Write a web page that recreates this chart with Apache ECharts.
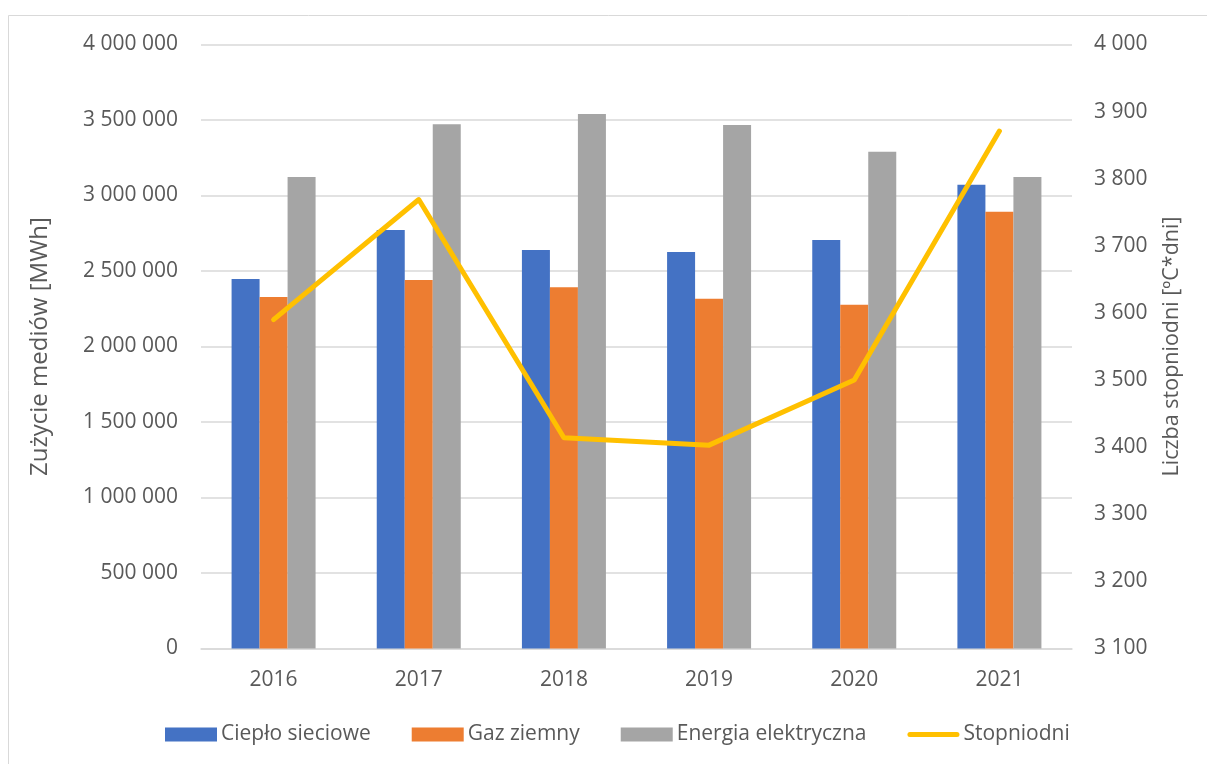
<!DOCTYPE html>
<html>
<head>
<meta charset="utf-8">
<script src="https://cdn.jsdelivr.net/npm/echarts@6/dist/echarts.min.js"></script>
<style>
  html, body { margin: 0; padding: 0; background: #ffffff; }
  #chart { width: 1207px; height: 764px; }
</style>
</head>
<body>
<div id="chart"></div>
<script>
// Zużycie mediów i liczba stopniodni, 2016–2021
const years = ['2016', '2017', '2018', '2019', '2020', '2021'];
const cieploSieciowe = [2447000, 2772000, 2639000, 2626000, 2705000, 3072000];
const gazZiemny = [2328000, 2440000, 2392000, 2317000, 2277000, 2893000];
const energiaElektryczna = [3123000, 3472000, 3540000, 3467000, 3290000, 3123000];
const stopniodni = [3590, 3769, 3414, 3403, 3500, 3871];

const FONT = '"Open Sans", sans-serif';
const TEXT = '#595959';
const GRID = '#d9d9d9';
const LABEL_SIZE = 21;

// thousands separated by spaces, e.g. 3 500 000
function spaced(v) {
  return String(v).replace(/\B(?=(\d{3})+(?!\d))/g, ' ');
}

// thin bar with rounded ends for the line series' legend key
const LINE_KEY = 'path://M0,0 M52,14 M2.5,4.5 L49.5,4.5 A2.5,2.5 0 0 1 49.5,9.5 L2.5,9.5 A2.5,2.5 0 0 1 2.5,4.5 Z';

const chart = echarts.init(document.getElementById('chart'), null, { renderer: 'canvas' });

chart.setOption({
  backgroundColor: '#ffffff',
  animation: false,
  textStyle: { fontFamily: FONT, color: TEXT },
  graphic: [{
    type: 'rect',
    shape: { x: 8.5, y: 15.5, width: 1230, height: 780 },
    style: { fill: 'none', stroke: GRID, lineWidth: 1 },
    silent: true
  }],
  grid: { left: 201, right: 135, top: 44.5, bottom: 115.5, containLabel: false },
  legend: {
    top: 724,
    left: 165,
    padding: 0,
    itemWidth: 52,
    itemHeight: 14,
    itemGap: 41,
    textStyle: { fontFamily: FONT, fontSize: LABEL_SIZE, color: TEXT, padding: [0, 0, 0, -1] },
    data: [
      { name: 'Ciepło sieciowe', icon: 'rect' },
      { name: 'Gaz ziemny', icon: 'rect' },
      { name: 'Energia elektryczna', icon: 'rect' },
      { name: 'Stopniodni', icon: LINE_KEY }
    ]
  },
  xAxis: {
    type: 'category',
    data: years,
    axisLine: { show: true, lineStyle: { color: GRID, width: 1.5 } },
    axisTick: { show: false },
    axisLabel: { fontFamily: FONT, fontSize: LABEL_SIZE, color: TEXT, margin: 21 }
  },
  yAxis: [
    {
      type: 'value',
      min: 0,
      max: 4000000,
      interval: 500000,
      name: 'Zużycie mediów [MWh]',
      nameLocation: 'middle',
      nameRotate: 90,
      nameGap: 149,
      nameTextStyle: { fontFamily: FONT, fontSize: 24, color: TEXT },
      axisLine: { show: false },
      axisTick: { show: false },
      splitLine: { lineStyle: { color: GRID, width: 1.5 } },
      axisLabel: { fontFamily: FONT, fontSize: LABEL_SIZE, color: TEXT, margin: 23, formatter: spaced }
    },
    {
      type: 'value',
      min: 3100,
      max: 4000,
      interval: 100,
      position: 'right',
      name: 'Liczba stopniodni [ºC*dni]',
      nameLocation: 'middle',
      nameRotate: 90,
      nameGap: 89,
      nameTextStyle: { fontFamily: FONT, fontSize: 21.5, color: TEXT },
      axisLine: { show: false },
      axisTick: { show: false },
      splitLine: { show: false },
      axisLabel: { fontFamily: FONT, fontSize: LABEL_SIZE, color: TEXT, margin: 22, formatter: spaced }
    }
  ],
  series: [
    {
      name: 'Ciepło sieciowe',
      type: 'bar',
      data: cieploSieciowe,
      barWidth: 28,
      barGap: '0%',
      itemStyle: { color: '#4472C4' }
    },
    {
      name: 'Gaz ziemny',
      type: 'bar',
      data: gazZiemny,
      barWidth: 28,
      barGap: '0%',
      itemStyle: { color: '#ED7D31' }
    },
    {
      name: 'Energia elektryczna',
      type: 'bar',
      data: energiaElektryczna,
      barWidth: 28,
      barGap: '0%',
      itemStyle: { color: '#A5A5A5' }
    },
    {
      name: 'Stopniodni',
      type: 'line',
      yAxisIndex: 1,
      data: stopniodni,
      symbol: 'none',
      lineStyle: { color: '#FFC000', width: 5, cap: 'round', join: 'round' },
      itemStyle: { color: '#FFC000' },
      z: 5
    }
  ]
});
</script>
</body>
</html>
